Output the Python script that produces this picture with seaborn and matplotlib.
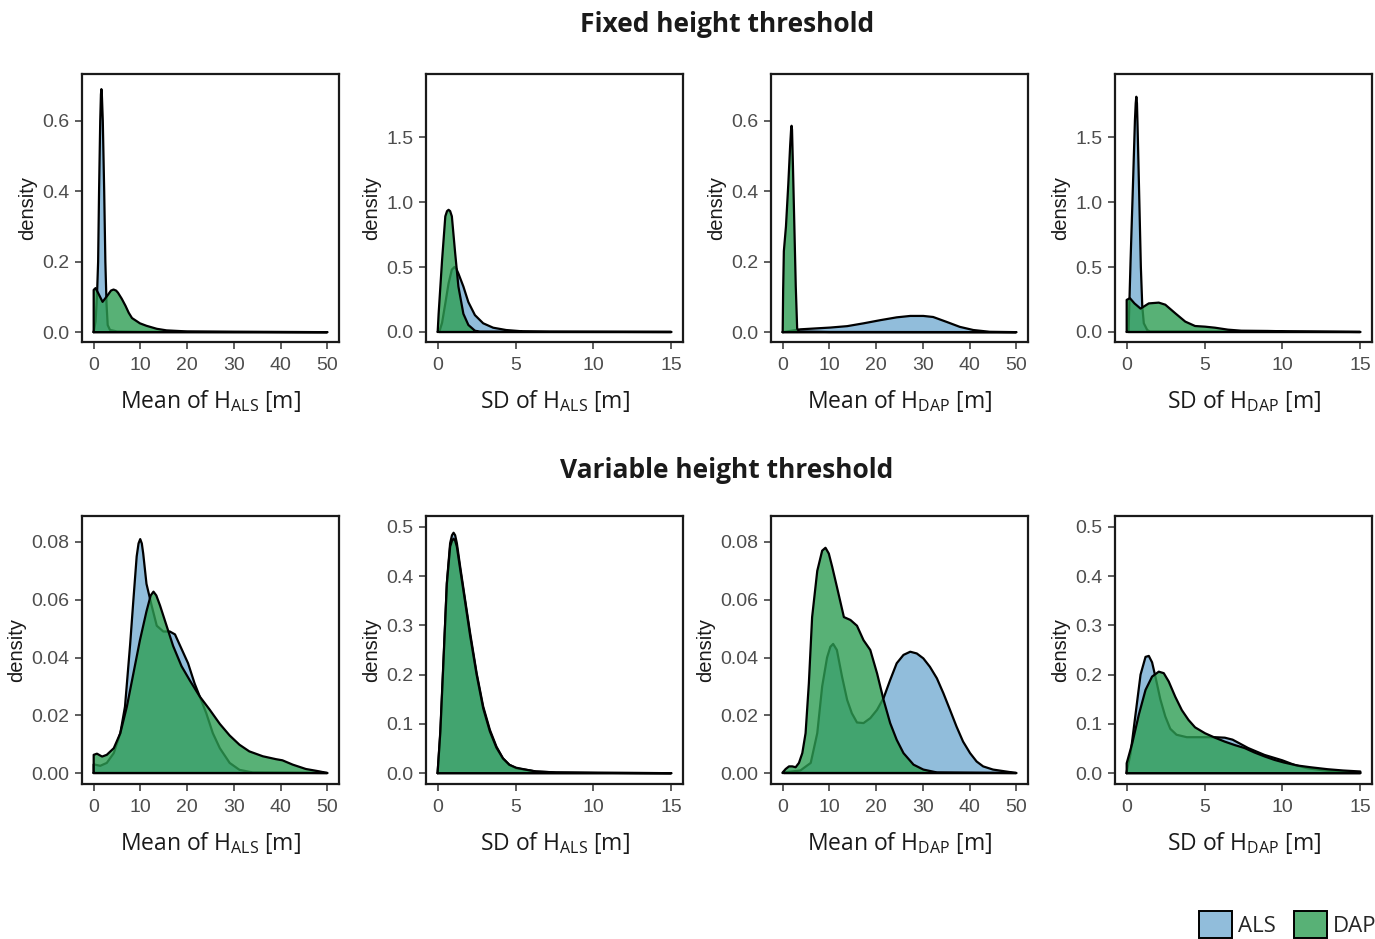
import matplotlib
matplotlib.use("Agg")
import matplotlib.pyplot as plt
from matplotlib.patches import Patch
import pandas as pd
import seaborn as sns

# ---- density curves (x grid, density) ----
# Fixed height threshold
fix_mean_als_x = [0.0, 0.4, 0.7, 0.95, 1.15, 1.4, 1.55, 1.65, 1.75, 1.95, 2.25, 2.5, 2.75, 3.0, 3.5, 5, 10, 50]
fix_mean_als_y = [0.0, 0.03, 0.1, 0.2, 0.4, 0.6, 0.675, 0.69, 0.675, 0.6, 0.4, 0.2, 0.08, 0.02, 0.006, 0.002, 0.001, 0.0]
fix_mean_dap_x = [0, 0.4, 1.0, 1.9, 3.0, 3.7, 4.25, 4.8, 5.2, 6.0, 6.8, 7.5, 8.2, 9.9, 11.3, 13.5, 15.6, 20, 30, 50]
fix_mean_dap_y = [0.12, 0.125, 0.11, 0.086, 0.105, 0.118, 0.121, 0.118, 0.112, 0.095, 0.075, 0.055, 0.04, 0.025,
                  0.018, 0.0095, 0.005, 0.002, 0.001, 0.0]

fix_sd_als_x = [0.1, 0.28, 0.49, 0.70, 0.91, 1.08, 1.2, 1.33, 1.65, 1.97, 2.39, 2.92, 3.56, 4.4, 5.47, 7.2, 15]
fix_sd_als_y = [0.0, 0.07, 0.22, 0.375, 0.48, 0.50, 0.485, 0.45, 0.35, 0.23, 0.13, 0.067, 0.033, 0.015, 0.005, 0.002, 0.0]
fix_sd_dap_x = [0.0, 0.06, 0.28, 0.49, 0.6, 0.70, 0.8, 0.91, 1.12, 1.33, 1.65, 1.97, 2.39, 2.7, 5, 15]
fix_sd_dap_y = [0.0, 0.14, 0.55, 0.89, 0.93, 0.94, 0.93, 0.89, 0.61, 0.35, 0.14, 0.054, 0.01, 0.002, 0.001, 0.0]

fix_mean_dap_als_x = [0, 3.8, 10.2, 13.8, 17.3, 20.9, 24.4, 27.3, 30.1, 32.2, 35.1, 37.9, 40.8, 44.3, 50]
fix_mean_dap_als_y = [0.0, 0.008, 0.013, 0.017, 0.025, 0.034, 0.042, 0.046, 0.046, 0.043, 0.029, 0.015, 0.006, 0.001, 0.0]
fix_mean_dap_dap_x = [0, 0.1, 0.25, 0.7, 1.2, 1.6, 1.8, 1.9, 2.0, 2.2, 2.5, 2.8, 3.1, 3.5, 10, 50]
fix_mean_dap_dap_y = [0.0, 0.12, 0.23, 0.3, 0.42, 0.53, 0.575, 0.586, 0.575, 0.47, 0.3, 0.13, 0.01, 0.002, 0.0005, 0.0]

fix_sd_dap_als_x = [0.12, 0.25, 0.40, 0.53, 0.58, 0.62, 0.66, 0.70, 0.81, 0.91, 1.0, 1.10, 1.32, 1.5, 15]
fix_sd_dap_als_y = [0.0, 0.55, 1.12, 1.63, 1.76, 1.81, 1.76, 1.58, 1.02, 0.50, 0.2, 0.067, 0.015, 0.003, 0.0]
fix_sd_dap_dap_x = [0, 0.21, 0.5, 0.89, 1.42, 2.06, 2.48, 3.12, 3.76, 4.39, 5.03, 5.67, 6.5, 7.36, 9.06, 10.3, 15]
fix_sd_dap_dap_y = [0.247, 0.26, 0.22, 0.18, 0.22, 0.226, 0.21, 0.144, 0.08, 0.046, 0.041, 0.033, 0.018, 0.010,
                    0.008, 0.005, 0.0]

# Variable height threshold
var_mean_als_x = [0, 1.4, 2.8, 4.3, 5.7, 6.7, 7.8, 8.5, 9.2, 9.6, 9.96, 10.3, 10.6, 11.3, 12.4, 13.5, 14.9, 16.3,
                  17.4, 18.8, 20.2, 21.6, 22.7, 24.1, 25.5, 27, 29.1, 31.2, 34, 50]
var_mean_als_y = [0.003, 0.0025, 0.0035, 0.0069, 0.0138, 0.023, 0.0445, 0.060, 0.075, 0.0795, 0.081, 0.0795, 0.076,
                  0.0655, 0.058, 0.051, 0.049, 0.049, 0.048, 0.043, 0.038, 0.031, 0.0265, 0.0207, 0.0138, 0.0086,
                  0.0035, 0.0011, 0.0002, 0.0]
var_mean_dap_x = [0, 0.7, 1.8, 2.8, 4.3, 5.7, 7.1, 8.5, 9.9, 11.3, 12.2, 12.8, 13.4, 14.2, 15.6, 17, 18.8, 20.6,
                  22.7, 24.8, 27, 29.1, 31.2, 33.3, 36.2, 39, 40.4, 42.6, 45.4, 48.2, 50]
var_mean_dap_y = [0.0063, 0.0067, 0.0057, 0.0063, 0.0086, 0.0138, 0.023, 0.0345, 0.046, 0.056, 0.0615, 0.0628,
                  0.0615, 0.058, 0.051, 0.044, 0.037, 0.032, 0.0265, 0.022, 0.017, 0.013, 0.0098, 0.0075, 0.0058,
                  0.0048, 0.0044, 0.0029, 0.0014, 0.0006, 0.0]

var_sd_als_x = [0, 0.17, 0.38, 0.59, 0.8, 0.92, 1.02, 1.12, 1.23, 1.44, 1.76, 2.08, 2.5, 2.92, 3.35, 3.77, 4.19,
                4.6, 5.04, 5.68, 6.3, 7.6, 10.3, 15]
var_sd_als_y = [0.003, 0.081, 0.23, 0.386, 0.467, 0.483, 0.488, 0.483, 0.467, 0.42, 0.352, 0.285, 0.203, 0.1355,
                0.088, 0.054, 0.030, 0.017, 0.010, 0.0068, 0.0034, 0.0014, 0.0007, 0.0]
var_sd_dap_x = var_sd_als_x
var_sd_dap_y = [0.003, 0.085, 0.235, 0.385, 0.46, 0.472, 0.476, 0.472, 0.46, 0.415, 0.348, 0.28, 0.2, 0.132, 0.085,
                0.052, 0.030, 0.017, 0.011, 0.007, 0.0035, 0.0015, 0.0007, 0.0]

var_mean_dap_als_x = [0.3, 3.8, 6, 7.4, 8.45, 9.5, 10.2, 10.8, 11.6, 12.7, 13.8, 14.8, 15.9, 17.3, 18.75, 20.2, 21.6,
                      23, 24.4, 25.85, 27.3, 28.7, 30.1, 31.5, 33, 34.4, 35.8, 37.2, 38.6, 40.1, 41.5, 42.9, 45,
                      47.9, 50]
var_mean_dap_als_y = [0.0002, 0.0009, 0.0035, 0.0138, 0.030, 0.040, 0.0437, 0.0447, 0.0426, 0.0334, 0.0253, 0.0207,
                      0.0175, 0.0173, 0.019, 0.0219, 0.026, 0.0322, 0.038, 0.0409, 0.042, 0.0414, 0.0397, 0.0368,
                      0.0328, 0.0276, 0.0219, 0.0161, 0.0109, 0.0069, 0.004, 0.0023, 0.0012, 0.0005, 0.0]
var_mean_dap_dap_x = [0, 0.64, 1.35, 2.06, 2.77, 3.48, 4.2, 4.9, 5.6, 6.3, 7.4, 8.45, 9.16, 9.87, 10.6, 11.6, 13.1,
                      14.5, 15.9, 17.3, 18.75, 20.2, 21.6, 23, 24.4, 25.85, 28, 30.1, 33, 50]
var_mean_dap_dap_y = [0.0002, 0.0014, 0.0023, 0.0023, 0.002, 0.0035, 0.0069, 0.0138, 0.031, 0.054, 0.070, 0.077,
                      0.078, 0.076, 0.0714, 0.0645, 0.054, 0.053, 0.051, 0.046, 0.0426, 0.0345, 0.0253, 0.0173,
                      0.0115, 0.0069, 0.0029, 0.0012, 0.0002, 0.0]

var_sd_dap_als_x = [0, 0.25, 0.57, 0.89, 1.21, 1.42, 1.63, 1.85, 2.16, 2.48, 2.8, 3.2, 3.86, 4.39, 5.03, 5.67, 6.3,
                    6.8, 7.8, 8.85, 10, 10.75, 11.6, 12.7, 13.7, 15]
var_sd_dap_als_y = [0.003, 0.04, 0.12, 0.20, 0.236, 0.238, 0.225, 0.195, 0.15, 0.115, 0.09, 0.078, 0.073, 0.073,
                    0.073, 0.073, 0.072, 0.068, 0.051, 0.037, 0.026, 0.017, 0.010, 0.0054, 0.0027, 0.001]
var_sd_dap_dap_x = [0, 0.36, 0.79, 1.21, 1.63, 2.06, 2.38, 2.7, 3.12, 3.54, 3.97, 4.39, 5.03, 5.67, 6.3, 6.94,
                    7.57, 8.2, 8.85, 9.48, 10.1, 10.97, 11.8, 12.9, 13.9, 15]
var_sd_dap_dap_y = [0.02, 0.061, 0.12, 0.169, 0.196, 0.206, 0.203, 0.186, 0.155, 0.128, 0.108, 0.093, 0.081, 0.072,
                    0.064, 0.057, 0.051, 0.042, 0.034, 0.027, 0.0216, 0.0155, 0.012, 0.008, 0.0054, 0.0034]

row_titles = ["Fixed height threshold", "Variable height threshold"]
x_labels = ["Mean of H$_{\\mathrm{ALS}}$ [m]", "SD of H$_{\\mathrm{ALS}}$ [m]",
            "Mean of H$_{\\mathrm{DAP}}$ [m]", "SD of H$_{\\mathrm{DAP}}$ [m]"]

panels = [
    [(fix_mean_als_x, fix_mean_als_y, fix_mean_dap_x, fix_mean_dap_y),
     (fix_sd_als_x, fix_sd_als_y, fix_sd_dap_x, fix_sd_dap_y),
     (fix_mean_dap_als_x, fix_mean_dap_als_y, fix_mean_dap_dap_x, fix_mean_dap_dap_y),
     (fix_sd_dap_als_x, fix_sd_dap_als_y, fix_sd_dap_dap_x, fix_sd_dap_dap_y)],
    [(var_mean_als_x, var_mean_als_y, var_mean_dap_x, var_mean_dap_y),
     (var_sd_als_x, var_sd_als_y, var_sd_dap_x, var_sd_dap_y),
     (var_mean_dap_als_x, var_mean_dap_als_y, var_mean_dap_dap_x, var_mean_dap_dap_y),
     (var_sd_dap_als_x, var_sd_dap_als_y, var_sd_dap_dap_x, var_sd_dap_dap_y)],
]

# axis limits per row (mean panels, sd panels)
ylims = [[(-0.028, 0.733), (-0.077, 1.985), (-0.028, 0.733), (-0.077, 1.985)],
         [(-0.0038, 0.089), (-0.022, 0.522), (-0.0038, 0.089), (-0.022, 0.522)]]
yticks = [[[0.0, 0.2, 0.4, 0.6], [0.0, 0.5, 1.0, 1.5], [0.0, 0.2, 0.4, 0.6], [0.0, 0.5, 1.0, 1.5]],
          [[0.0, 0.02, 0.04, 0.06, 0.08], [0.0, 0.1, 0.2, 0.3, 0.4, 0.5],
           [0.0, 0.02, 0.04, 0.06, 0.08], [0.0, 0.1, 0.2, 0.3, 0.4, 0.5]]]
yfmt = [["{:.1f}"] * 4, ["{:.2f}", "{:.1f}", "{:.2f}", "{:.1f}"]]

als_color = (0.57, 0.74, 0.86)
dap_color = (0.18, 0.62, 0.33, 0.8)

sns.set_theme(style="ticks")
plt.rcParams["font.family"] = ["Liberation Sans", "DejaVu Sans"]
plt.rcParams["mathtext.fontset"] = "custom"
plt.rcParams["mathtext.rm"] = "Open Sans"
plt.rcParams["mathtext.it"] = "Open Sans:italic"
plt.rcParams["mathtext.bf"] = "Open Sans:bold"

fig = plt.figure(figsize=(13.75, 9.39), dpi=100)

lefts = [82, 426, 771, 1115]
tops = [74, 516]
W, H = 1375, 939


def draw_density(ax, x, y, face, z):
    ax.fill_between(x, y, 0, facecolor=face, edgecolor="none", zorder=z)
    # closed outline like geom_density
    outline = pd.DataFrame({"x": [x[0]] + list(x) + [x[-1], x[0]],
                            "y": [0] + list(y) + [0, 0]})
    sns.lineplot(data=outline, x="x", y="y", sort=False, estimator=None,
                 color="black", linewidth=1.6, ax=ax, zorder=z + 0.5)


for r in range(2):
    for c in range(4):
        ax = fig.add_axes([lefts[c] / W, 1 - (tops[r] + 268) / H, 257 / W, 268 / H])
        ax_x, ax_y, dp_x, dp_y = panels[r][c]
        draw_density(ax, ax_x, ax_y, als_color, 2)
        draw_density(ax, dp_x, dp_y, dap_color, 3)
        if c % 2 == 0:
            ax.set_xlim(-2.5, 52.5)
            ax.set_xticks([0, 10, 20, 30, 40, 50])
        else:
            ax.set_xlim(-0.75, 15.75)
            ax.set_xticks([0, 5, 10, 15])
        ax.set_ylim(*ylims[r][c])
        ax.set_yticks(yticks[r][c])
        ax.set_yticklabels([yfmt[r][c].format(v) for v in yticks[r][c]])
        ax.tick_params(axis="both", labelsize=14, labelcolor="#4d4d4d", length=5,
                       width=1.1, color="#333333", pad=4)
        ax.tick_params(axis="x", pad=6)
        for s in ax.spines.values():
            s.set_linewidth(1.6)
            s.set_color("#1a1a1a")
        ax.set_xlabel(x_labels[c], fontsize=16.5, family="Open Sans", color="#1a1a1a", labelpad=10)
        ax.set_ylabel("density", fontsize=14.5, color="#1a1a1a", labelpad=4)

fig.text(727 / W, 1 - 25 / H, row_titles[0], ha="center", va="center",
         fontsize=19, fontweight="bold", family="Open Sans", color="#1a1a1a")
fig.text(727 / W, 1 - 470 / H, row_titles[1], ha="center", va="center",
         fontsize=19, fontweight="bold", family="Open Sans", color="#1a1a1a")

handles = [Patch(facecolor=als_color, edgecolor="black", linewidth=1.4, label="ALS"),
           Patch(facecolor=dap_color, edgecolor="black", linewidth=1.4, label="DAP")]
fig.legend(handles=handles, loc="lower right", bbox_to_anchor=(1.012, -0.016), ncol=2,
           frameon=False, prop={"family": "Open Sans", "size": 16},
           handlelength=1.5, handleheight=1.5, handletextpad=0.25, columnspacing=0.8,
           borderpad=0.2)

fig.savefig("out.png", dpi=100)
